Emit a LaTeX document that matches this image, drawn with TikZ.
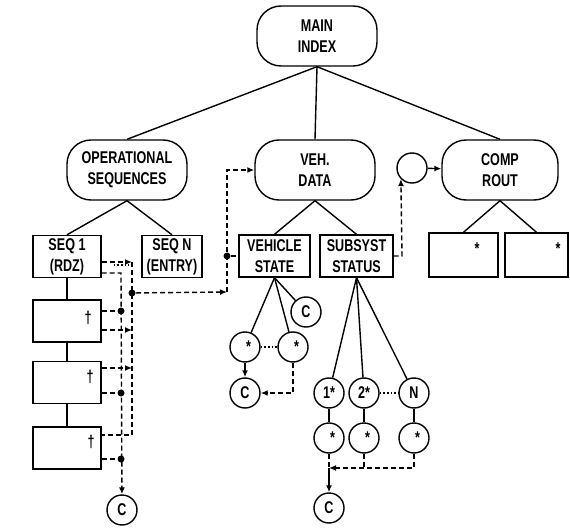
\documentclass[tikz,border=0pt]{standalone}
\usepackage{fontspec}
\usepackage{tikz}
\usetikzlibrary{arrows.meta}
\newfontfamily\chartfont[FakeStretch=0.74]{Liberation Sans Bold}
\tikzset{oval/.style = {draw, rectangle, rounded corners=24pt, align=center,
    minimum width=120pt, minimum height=60pt, inner sep=0pt},
  seqbox/.style = {draw, rectangle, align=center, minimum width=68pt,
    minimum height=42pt, inner sep=0pt},
  ring/.style = {draw, circle, minimum size=30pt, inner sep=0pt},
  junct/.style = {circle, fill, minimum size=7pt, inner sep=0pt},
  flow/.style = {dash pattern=on 5pt off 3pt},
  dots/.style = {dotted, line width=1.6pt},
  glyph/.style = {font=\chartfont\fontsize{17}{21}\selectfont, inner sep=0pt}}

\begin{document}
\begin{tikzpicture}[x=1pt,y=-1pt,line width=1.4pt,>={Latex[length=7pt,width=6pt]},
  every node/.style={font=\chartfont\fontsize{17}{21}\selectfont}]
  \useasboundingbox (0,0) rectangle (570,529);
  \node[oval] (main) at (317,36) {MAIN\\INDEX};
  \node[oval] (ops) at (127,170) {OPERATIONAL\\SEQUENCES};
  \node[oval] (veh) at (315,170) {VEH.\\DATA};
  \node[oval, minimum width=116pt] (comp) at (500,170) {COMP\\ROUT};
  \node[ring] (loop) at (412,168) {};
  \path (main.south) edge (ops.north) edge (veh.north) edge (comp.north);
  \draw[->] (loop) -- (comp);

  \node[seqbox] (seq1) at (67,256.5) {SEQ 1\\(RDZ)};
  \node[seqbox, minimum width=60pt] (seqn) at (172,256.5) {SEQ N\\(ENTRY)};
  \node[seqbox] (s2) at (67,321) {};
  \node[seqbox] (s3) at (67,382.5) {};
  \node[seqbox] (s4) at (67,448) {};
  \node[glyph] (d2) at (88,318) {†};
  \node[glyph] (d3) at (90,377) {†};
  \node[glyph] (d4) at (91,442) {†};
  \node[ring] (cl) at (122,510) {C};
  \path (ops.south) edge (seq1.north) edge (seqn.north);
  \draw (seq1) -- (s2) (s2) -- (s3) (s3) -- (s4);
  \draw[dots, shorten <=12pt, shorten >=12pt] ([yshift=-8.5pt]seq1.east) -- ([yshift=-8.5pt]seqn.west);

  \coordinate (a0) at (121,273);
  \coordinate (b0) at (132,262);
  \coordinate (b2) at (132,330);
  \coordinate (b3) at (132,368);
  \coordinate (b4) at (132,435);
  \node[junct] (j1) at (132,293) {};
  \node[junct] (j2) at (121,311) {};
  \node[junct] (j3) at (121,393) {};
  \node[junct] (j4) at (121,459) {};
  \draw[flow,->] (seq1.east |- b0) -- (b0);
  \draw[flow] (b0) -- (b4) -- (s4.east |- b4);
  \draw[flow,->] (seq1.east |- a0) -- (a0) -- (cl);
  \draw[flow] (s2.east |- j2) -- (j2);
  \draw[flow,->] (s2.east |- b2) -- (b2);
  \draw[flow,->] (s3.east |- b3) -- (b3);
  \draw[flow] (s3.east |- j3) -- (j3);
  \draw[flow] (s4.east |- j4) -- (j4);

  \node[seqbox, minimum width=71pt] (vs) at (274.5,256) {VEHICLE\\STATE};
  \node[seqbox, minimum width=73pt] (ss) at (356.5,256) {SUBSYST\\STATUS};
  \path (veh.south) edge (vs.north) edge (ss.north);
  \coordinate (vk) at (227,292);
  \node[junct] (jv) at (227,256) {};
  \draw[flow,->] (j1) -- (vk);
  \draw[flow,->] (vk) |- (veh);
  \draw[flow] (jv) -- (vs);
  \coordinate (sk) at (402,256);
  \draw[flow,->] (ss) -- (sk) -- (loop.south west);

  \node[ring] (v1) at (245,347) {\hphantom{1}*\vphantom{1}};
  \node[ring] (v2) at (293,347) {\hphantom{1}*\vphantom{1}};
  \node[ring] (vc) at (306,312) {C};
  \node[ring] (vcc) at (245,393) {C};
  \path (vs.south) edge (v1) edge (v2) edge (vc);
  \draw[dots] (v1) -- (v2);
  \draw[->] (v1) -- (vcc);
  \draw[flow,->] (v2) |- (vcc);

  \node[ring] (n1) at (329,393) {1*};
  \node[ring] (n2) at (364,393) {2*};
  \node[ring] (nN) at (414,393) {N};
  \node[ring] (m1) at (329,438) {\hphantom{1}*\vphantom{1}};
  \node[ring] (m2) at (364,438) {\hphantom{1}*\vphantom{1}};
  \node[ring] (mN) at (414,438) {\hphantom{1}*\vphantom{1}};
  \node[ring] (sc) at (329,508) {C};
  \coordinate (jn) at (329,468);
  \path (ss.south) edge (n1) edge (n2) edge (nN);
  \draw[dots] (n2) -- (nN);
  \draw (n1) -- (m1) (n2) -- (m2) (nN) -- (mN);
  \draw[flow] (m1) -- (jn);
  \draw[flow] (m2) -- (m2 |- jn);
  \draw[flow,->] (mN) |- (jn);
  \draw[->] (jn) -- (sc);

  \node[seqbox, minimum width=69pt, minimum height=44pt] (cp1) at (463.5,255) {};
  \node[seqbox, minimum width=63pt, minimum height=44pt] (cp2) at (536.5,255) {};
  \node[glyph] (k1) at (477,249) {*};
  \node[glyph] (k2) at (558,249) {*};
  \path (comp.south) edge (cp1.north) edge (cp2.north);
\end{tikzpicture}
\end{document}
